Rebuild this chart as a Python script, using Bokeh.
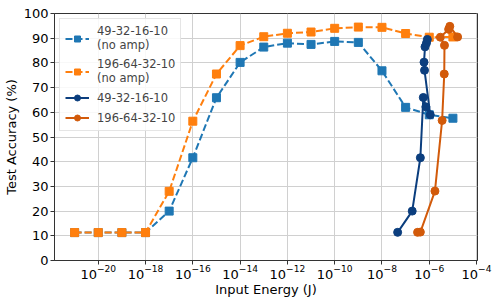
from bokeh.plotting import figure
from bokeh.models import Range1d, FixedTicker, Legend, LegendItem, LogTickFormatter
from bokeh.embed import file_html
from bokeh.resources import INLINE

# ---- data ----
energy_noamp = [1e-21, 1e-20, 1e-19, 1e-18, 1e-17, 1e-16, 1e-15, 1e-14, 1e-13,
                1e-12, 1e-11, 1e-10, 1e-9, 1e-8, 1e-7, 1e-6, 1e-5]
acc_small_noamp = [11.3, 11.3, 11.3, 11.3, 20.0, 41.6, 65.9, 80.2, 86.4,
                   88.0, 87.5, 88.7, 88.3, 76.8, 62.0, 59.0, 57.6]
acc_large_noamp = [11.3, 11.3, 11.3, 11.3, 28.0, 56.4, 75.5, 87.0, 90.6,
                   92.0, 92.5, 94.0, 94.5, 94.4, 91.9, 90.4, 90.5]

energy_small_amp = [4.6e-8, 1.9e-7, 4.2e-7, 5.6e-7, 7.2e-7, 1.1e-6, 6.3e-7,
                    6.0e-7, 6.6e-7, 7.6e-7, 8.3e-7]
acc_small_amp = [11.4, 20.0, 41.6, 66.0, 62.2, 59.0, 77.0, 80.3, 86.5, 88.0, 89.5]

energy_large_amp = [3.2e-7, 4.2e-7, 1.74e-6, 3.5e-6, 4.3e-6, 4.4e-6, 2.95e-6,
                    6.6e-6, 7.4e-6, 1.58e-5]
acc_large_amp = [11.4, 11.5, 28.1, 56.7, 75.5, 87.1, 90.4, 93.6, 94.8, 90.5]

labels = ["49-32-16-10\n(no amp)", "196-64-32-10\n(no amp)", "49-32-16-10", "196-64-32-10"]
x_ticks = [1e-20, 1e-18, 1e-16, 1e-14, 1e-12, 1e-10, 1e-8, 1e-6, 1e-4]
y_ticks = [0, 10, 20, 30, 40, 50, 60, 70, 80, 90, 100]

FONT = "DejaVu Sans"
FS = "13px"

p = figure(width=498, height=299, x_axis_type="log",
           x_range=Range1d(10 ** -21.85, 10 ** -3.96), y_range=Range1d(0, 100),
           output_backend="svg", toolbar_location=None,
           min_border_left=0, min_border_right=21, min_border_top=13, min_border_bottom=0)

p.xaxis.ticker = FixedTicker(ticks=x_ticks)
p.yaxis.ticker = FixedTicker(ticks=y_ticks)
p.xaxis.formatter = LogTickFormatter()
p.xaxis.axis_label = "Input Energy (J)"
p.yaxis.axis_label = "Test Accuracy (%)"
for ax in (p.xaxis, p.yaxis):
    ax.axis_label_text_font = FONT
    ax.axis_label_text_font_size = FS
    ax.axis_label_text_font_style = "normal"
    ax.major_label_text_font = FONT
    ax.major_label_text_font_size = FS
    ax.minor_tick_line_color = None
    ax.major_tick_out = 4
    ax.major_tick_in = 0
    ax.axis_line_color = "#333333"
    ax.major_tick_line_color = "#333333"
    ax.major_label_text_color = "black"
    ax.axis_label_text_color = "black"
p.yaxis.major_label_standoff = 2
p.yaxis.axis_label_standoff = 2
p.xaxis.major_label_standoff = 0
p.xaxis.axis_label_standoff = 0

p.grid.grid_line_color = "#d0d0d0"
p.grid.grid_line_width = 1
p.outline_line_color = "#333333"
p.outline_line_width = 1

c1, c2, c3, c4 = "#1f77b4", "#ff7f0e", "#0b3e7e", "#d25a0a"

r1l = p.line(energy_noamp, acc_small_noamp, color=c1, line_width=2, line_dash="7 3")
r1m = p.scatter(energy_noamp, acc_small_noamp, marker="square", size=8, color=c1)
r2l = p.line(energy_noamp, acc_large_noamp, color=c2, line_width=2, line_dash="7 3")
r2m = p.scatter(energy_noamp, acc_large_noamp, marker="square", size=8, color=c2)
r3l = p.line(energy_small_amp, acc_small_amp, color=c3, line_width=2)
r3m = p.scatter(energy_small_amp, acc_small_amp, marker="circle", size=8, color=c3)
r4l = p.line(energy_large_amp, acc_large_amp, color=c4, line_width=2)
r4m = p.scatter(energy_large_amp, acc_large_amp, marker="circle", size=8, color=c4)

legend = Legend(items=[
    LegendItem(label=labels[0], renderers=[r1l, r1m]),
    LegendItem(label=labels[1], renderers=[r2l, r2m]),
    LegendItem(label=labels[2], renderers=[r3l, r3m]),
    LegendItem(label=labels[3], renderers=[r4l, r4m]),
], location="top_left")
legend.label_text_font = FONT
legend.label_text_font_size = "11.5px"
legend.glyph_width = 24
legend.glyph_height = 15
legend.label_height = 13
legend.label_standoff = 8
legend.spacing = 5
legend.padding = 5
legend.margin = 5
legend.border_line_color = "#cccccc"
legend.background_fill_alpha = 0.85
p.add_layout(legend)

open("out.html", "w").write(file_html(p, INLINE))
